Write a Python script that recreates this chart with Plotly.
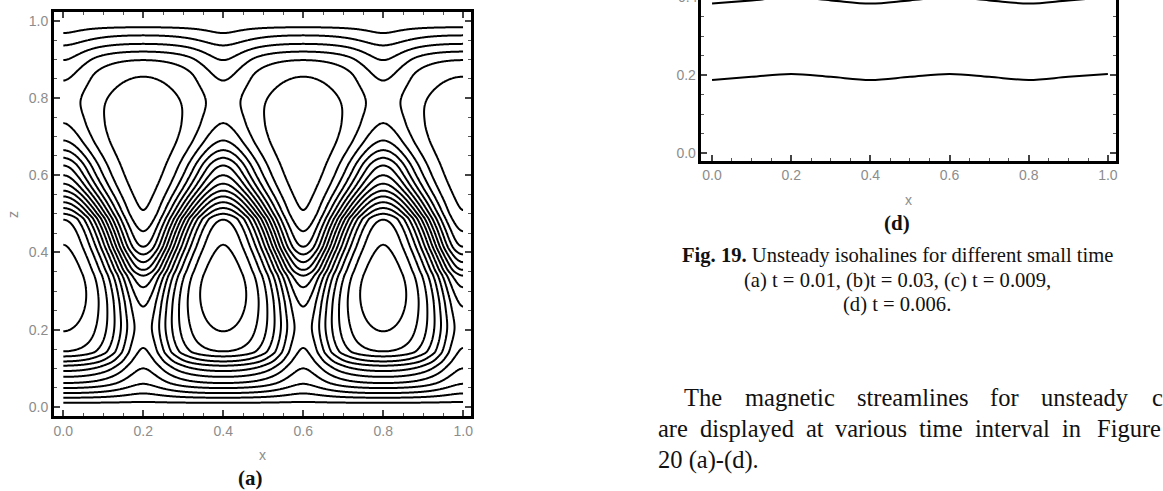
import numpy as np
import plotly.graph_objects as go

# ---------------- panel (a): contour crossings ----------------
# Column x = 0 (also 0.4, 0.8): heights where contour lines cross, bottom -> top,
# and the contour index of each crossing (uniform contour spacing of 1).
COL0_Z = [0.000, 0.011, 0.024, 0.036, 0.049, 0.062,
          0.078, 0.093, 0.107, 0.118, 0.131, 0.144, 0.196, 0.310,
          0.420, 0.485, 0.500, 0.515, 0.530, 0.545, 0.560,
          0.578, 0.600, 0.625, 0.645, 0.665, 0.690, 0.735, 0.790,
          0.845, 0.898, 0.936, 0.968, 1.000]
COL0_LVL = [5.0, 4.5, 3.5, 2.5, 1.5, 0.5,
            -0.5, -1.5, -2.5, -3.5, -4.5, -5.5, -6.5, -7.2,
            -6.5, -5.5, -4.5, -3.5, -2.5, -1.5, -0.5,
            0.5, 1.5, 2.5, 3.5, 4.5, 5.5, 6.5, 7.0,
            6.5, 5.5, 4.5, 3.5, 3.0]
# Column x = 0.2 (also 0.6, 1.0)
COL2_Z = [0.000, 0.013, 0.035, 0.060, 0.100, 0.153, 0.205,
          0.260, 0.310, 0.340, 0.355, 0.375, 0.395, 0.415,
          0.455, 0.510, 0.690, 0.855, 0.898,
          0.920, 0.940, 0.962, 0.983, 1.000]
COL2_LVL = [5.0, 4.5, 3.5, 2.5, 1.5, 0.5, 0.0,
            0.5, 1.5, 2.5, 3.5, 4.5, 5.5, 6.5,
            7.5, 8.5, 9.2, 8.5, 7.5,
            6.5, 5.5, 4.5, 3.5, 3.0]
LEVEL_START, LEVEL_END, LEVEL_STEP = -6.5, 8.5, 1.0
CELL_PERIOD = 0.4

# ---------------- panel (d): visible isohalines ----------------
D_X = [0.0, 0.1, 0.2, 0.3, 0.4, 0.5, 0.6, 0.7, 0.8, 0.9, 1.0]
D_LOWER = [0.188, 0.196, 0.203, 0.196, 0.188, 0.196, 0.203, 0.196, 0.188, 0.196, 0.203]
D_UPPER = [0.384, 0.392, 0.400, 0.392, 0.384, 0.392, 0.400, 0.392, 0.384, 0.392, 0.400]

TICKS = [0.0, 0.2, 0.4, 0.6, 0.8, 1.0]
TICK_TEXT = ["0.0", "0.2", "0.4", "0.6", "0.8", "1.0"]


def pchip(xk, yk, xq):
    xk = np.asarray(xk, float)
    yk = np.asarray(yk, float)
    h = np.diff(xk)
    d = np.diff(yk) / h
    n = len(xk)
    m = np.zeros(n)
    for i in range(1, n - 1):
        if d[i - 1] * d[i] > 0:
            w1 = 2 * h[i] + h[i - 1]
            w2 = h[i] + 2 * h[i - 1]
            m[i] = (w1 + w2) / (w1 / d[i - 1] + w2 / d[i])
    m[0] = d[0]
    m[-1] = d[-1]
    idx = np.clip(np.searchsorted(xk, xq, side="right") - 1, 0, n - 2)
    t = (xq - xk[idx]) / h[idx]
    h00 = 2 * t**3 - 3 * t**2 + 1
    h10 = t**3 - 2 * t**2 + t
    h01 = -2 * t**3 + 3 * t**2
    h11 = t**3 - t**2
    return h00 * yk[idx] + h10 * h[idx] * m[idx] + h01 * yk[idx + 1] + h11 * h[idx] * m[idx + 1]


xg = np.linspace(0, 1, 401)
zg = np.linspace(0, 1, 601)
g0 = pchip(COL0_Z, COL0_LVL, zg)
g2 = pchip(COL2_Z, COL2_LVL, zg)
fmean = (g0 + g2) / 2
amp = (g2 - g0) / 2
u = -np.cos(2 * np.pi * xg / CELL_PERIOD)
skew = 0.48 * np.tanh((zg - 0.5) / 0.12)
cc = (u[None, :] + skew[:, None]) / (1 + skew[:, None] * u[None, :])
psi = fmean[:, None] + amp[:, None] * cc

fig = go.Figure()
fig.add_trace(go.Contour(
    x=xg, y=zg, z=np.round(psi, 4),
    contours=dict(start=LEVEL_START, end=LEVEL_END, size=LEVEL_STEP, coloring="none"),
    line=dict(color="black", width=2, smoothing=1),
    showscale=False, hoverinfo="skip", xaxis="x", yaxis="y"))

for zz in (D_LOWER, D_UPPER):
    fig.add_trace(go.Scatter(x=D_X, y=zz, mode="lines",
                             line=dict(color="black", width=2, shape="spline", smoothing=1.0),
                             hoverinfo="skip", xaxis="x2", yaxis="y2", cliponaxis=True))

W, H = 1163, 491
GRAY = "#8c8c8c"
tickfont = dict(family="Liberation Sans, Arial, sans-serif", size=14, color=GRAY)
minor = dict(tickmode="linear", tick0=0, dtick=0.05, ticks="inside", ticklen=3,
             tickwidth=1.2, tickcolor="#555")
base = dict(showgrid=False, zeroline=False, showline=True, linecolor="black", linewidth=2.6,
            ticks="inside", ticklen=6, tickwidth=1.6, tickcolor="#444",
            tickmode="array", tickvals=TICKS, ticktext=TICK_TEXT, tickfont=tickfont,
            minor=minor)

fig.update_layout(
    width=W, height=H, margin=dict(l=0, r=0, t=0, b=0),
    paper_bgcolor="white", plot_bgcolor="white", showlegend=False,
    xaxis=dict(base, domain=[54 / W, 472 / W], range=[-0.0232, 1.020], anchor="y",
               mirror="allticks"),
    yaxis=dict(base, domain=[1 - 416 / H, 1 - 12 / H], range=[-0.0233, 1.0225], anchor="x",
               mirror="allticks"),
    xaxis2=dict(base, domain=[702.7 / W, 1118 / W], range=[-0.0267, 1.0207], anchor="y2",
                mirror=False),
    yaxis2=dict(base, domain=[1 - 160.7 / H, 1.0], range=[-0.019, 0.393], anchor="x2",
                mirror="allticks"),
)

annots = []


def ann(text, px, py, size, family="Liberation Serif, Times New Roman, serif", color="#111",
        xanchor="center", angle=0):
    annots.append(dict(text=text, x=px / W, y=1 - py / H, xref="paper", yref="paper",
                       xanchor=xanchor, yanchor="middle", showarrow=False, textangle=angle,
                       font=dict(family=family, size=size, color=color)))


SANS = "Liberation Sans, Arial, sans-serif"
ann("x", 263, 455, 14, SANS, GRAY)
ann("z", 13, 214, 14, SANS, GRAY, angle=-90)
ann("<b>(a)</b>", 251, 478, 21)
ann("x", 910, 200, 14, SANS, GRAY)
ann("<b>(d)</b>", 899, 223, 21)
ann("0.4", 689, -3, 14, SANS, GRAY)
ann("<b>Fig. 19.</b> Unsteady isohalines for different small time", 899, 256, 20.6)
ann("(a) t = 0.01, (b)t = 0.03, (c) t = 0.009,", 899, 280, 20.6)
ann("(d) t = 0.006.", 899, 304, 20.6)

PARA_LINE1 = [("The", 683), ("magnetic", 744), ("streamlines", 856), ("for", 990),
              ("unsteady", 1041), ("case", 1152)]
PARA_LINE2 = [("are", 657), ("displayed", 699), ("at", 805), ("various", 834), ("time", 919),
              ("interval", 975), ("in", 1062), ("Figure", 1097)]
for word, px in PARA_LINE1:
    ann(word, px, 397, 24.5, xanchor="left")
for word, px in PARA_LINE2:
    ann(word, px, 428, 24.5, xanchor="left")
ann("20 (a)-(d).", 657, 460, 24.5, xanchor="left")

fig.update_layout(annotations=annots)
fig.write_html("out.html", config={"displayModeBar": False},
               post_script="document.body.style.margin='0';document.body.style.overflow='hidden';")
